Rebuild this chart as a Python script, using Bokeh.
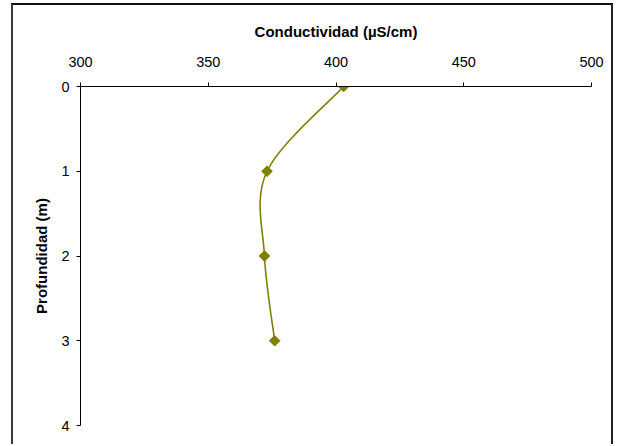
import numpy as np
from bokeh.plotting import figure
from bokeh.models import Range1d, FixedTicker
from bokeh.embed import file_html
from bokeh.resources import INLINE

# data
depth = [0, 1, 2, 3]
conductivity = [403, 373, 372, 376]
x_ticks = [300, 350, 400, 450, 500]
y_ticks = [0, 1, 2, 3, 4]
x_title = "Conductividad (µS/cm)"
y_title = "Profundidad (m)"

OLIVE = "#808000"
FONT = "Liberation Sans"

p = figure(width=602, height=441, output_backend="svg", toolbar_location=None,
           x_range=Range1d(300, 500), y_range=Range1d(4, 0),
           x_axis_location="above",
           min_border_left=67, min_border_right=24, min_border_top=81, min_border_bottom=21,
           styles={"border-top": "2px solid #111111", "border-left": "2px solid #3a3a3a",
                   "border-right": "2px solid #222222", "margin": "3px 0 0 11px"})
p.outline_line_color = None
p.xgrid.visible = False
p.ygrid.visible = False
p.background_fill_color = "white"
p.border_fill_color = "white"

for ax, ticks in ((p.xaxis[0], x_ticks), (p.yaxis[0], y_ticks)):
    ax.ticker = FixedTicker(ticks=ticks)
    ax.minor_tick_line_color = None
    ax.major_tick_in = 0
    ax.major_tick_out = 4
    ax.axis_line_color = "black"
    ax.major_tick_line_color = "black"
    ax.major_label_text_font = FONT
    ax.major_label_text_font_size = "14.5px"
    ax.major_label_text_color = "black"
    ax.axis_label_text_font = FONT
    ax.axis_label_text_font_style = "bold"
    ax.axis_label_text_font_size = "15px"
    ax.axis_label_text_color = "black"

p.xaxis.axis_label = x_title
p.yaxis.axis_label = y_title
p.xaxis.major_label_standoff = 16
p.xaxis.axis_label_standoff = 14
p.yaxis.major_label_standoff = 7
p.yaxis.axis_label_standoff = 8

# smoothed line (Catmull-Rom style Bezier segments between the data points)
xs = np.array(conductivity, dtype=float)
ys = np.array(depth, dtype=float)
n = len(xs)
x0, y0, x1, y1, cx0, cy0, cx1, cy1 = [], [], [], [], [], [], [], []
for i in range(n - 1):
    ip = max(i - 1, 0)
    inn = min(i + 2, n - 1)
    x0.append(xs[i]); y0.append(ys[i])
    x1.append(xs[i + 1]); y1.append(ys[i + 1])
    cx0.append(xs[i] + (xs[i + 1] - xs[ip]) / 6)
    cy0.append(ys[i] + (ys[i + 1] - ys[ip]) / 6)
    cx1.append(xs[i + 1] - (xs[inn] - xs[i]) / 6)
    cy1.append(ys[i + 1] - (ys[inn] - ys[i]) / 6)

p.bezier(x0=x0, y0=y0, x1=x1, y1=y1, cx0=cx0, cy0=cy0, cx1=cx1, cy1=cy1,
         line_color=OLIVE, line_width=1.6)
p.scatter(conductivity, depth, marker="square", angle=np.pi / 4, size=7.5,
          fill_color=OLIVE, line_color=OLIVE)

open("out.html", "w").write(file_html(p, INLINE))
